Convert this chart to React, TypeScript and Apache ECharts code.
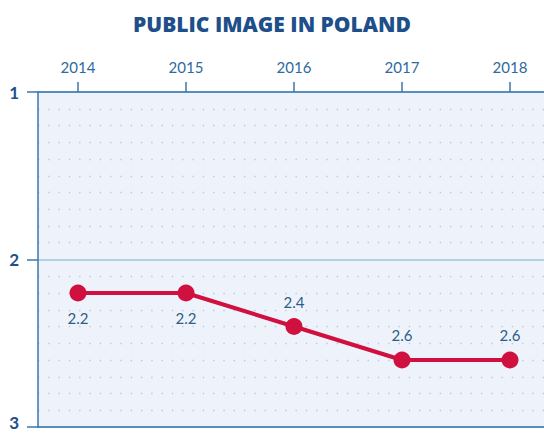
import React, { useEffect, useRef } from "react";
import * as echarts from "echarts";

const years = [2014, 2015, 2016, 2017, 2018];
const values = [2.2, 2.2, 2.4, 2.6, 2.6];
const labelBelow = [true, true, false, false, false];
const yTicks = [1, 2, 3];

export default function App() {
  const ref = useRef<HTMLDivElement>(null);
  useEffect(() => {
    if (!ref.current) return;
    const chart = echarts.init(ref.current, null, { renderer: "svg" });
    const axisBlue = "#3a78ab";
    const yLabelStyle = {
      color: "#1d4f8a",
      fontFamily: "Lato",
      fontWeight: "bold" as const,
      fontSize: 17,
    };
    chart.setOption({
      animation: false,
      title: {
        text: "PUBLIC IMAGE IN POLAND",
        left: "center",
        top: 8,
        textStyle: {
          fontFamily: "Open Sans",
          fontWeight: 800,
          fontSize: 21,
          color: "#1d4f8a",
        },
      },
      grid: {
        left: 38,
        right: 0,
        top: 92,
        bottom: 6,
        show: true,
        backgroundColor: "#eef3fb",
        borderWidth: 0,
      },
      xAxis: [
        {
          type: "value",
          position: "top",
          min: 2014 - 40 / 108,
          max: 2014 + 466 / 108,
          axisLine: { show: true, lineStyle: { color: axisBlue, width: 1.5 } },
          axisTick: {
            show: true,
            customValues: years,
            length: 10,
            lineStyle: { color: axisBlue, width: 1.5 },
          },
          axisLabel: {
            customValues: years,
            formatter: (v: number) => String(v),
            color: "#2e6a9e",
            fontFamily: "Lato",
            fontSize: 15,
            margin: 18,
          },
          splitLine: { show: false },
        },
        {
          type: "value",
          position: "bottom",
          min: 2014 - 40 / 108,
          max: 2014 + 466 / 108,
          axisLine: { show: true, lineStyle: { color: axisBlue, width: 1.5 } },
          axisTick: { show: false },
          axisLabel: { show: false },
          splitLine: { show: false },
        },
      ],
      yAxis: {
        type: "value",
        inverse: true,
        min: yTicks[0],
        max: yTicks[yTicks.length - 1],
        interval: 1,
        axisLine: { show: true, lineStyle: { color: axisBlue, width: 1.5 } },
        axisTick: { show: true, length: 11, lineStyle: { color: axisBlue, width: 1.5 } },
        axisLabel: {
          ...yLabelStyle,
          margin: 19,
          formatter: (v: number) =>
            v === yTicks[yTicks.length - 1] ? `{last|${v}}` : `{n|${v}}`,
          rich: {
            n: { ...yLabelStyle },
            last: { ...yLabelStyle, padding: [0, 0, 10, 0] },
          },
        },
        splitLine: { show: true, lineStyle: { color: "#9ec3e2", width: 1.5 } },
        minorTick: { show: false, splitNumber: 10 },
        minorSplitLine: {
          show: true,
          lineStyle: { color: "#b7c7db", width: 1.3, type: [1.3, 9] },
        },
      },
      series: [
        {
          type: "line",
          xAxisIndex: 0,
          data: years.map((y, i) => ({
            value: [y, values[i]],
            label: { position: labelBelow[i] ? "bottom" : "top" },
          })),
          symbol: "circle",
          symbolSize: 17,
          lineStyle: { color: "#d0103f", width: 4 },
          itemStyle: { color: "#d0103f" },
          label: {
            show: true,
            distance: 9,
            color: "#2f5d86",
            fontFamily: "Lato",
            fontSize: 15,
            formatter: (p: any) => String(p.value[1]),
          },
        },
      ],
    });
    return () => chart.dispose();
  }, []);
  return (
    <div
      ref={ref}
      style={{ position: "fixed", left: 0, top: 0, width: 544, height: 433, background: "#fff" }}
    />
  );
}
